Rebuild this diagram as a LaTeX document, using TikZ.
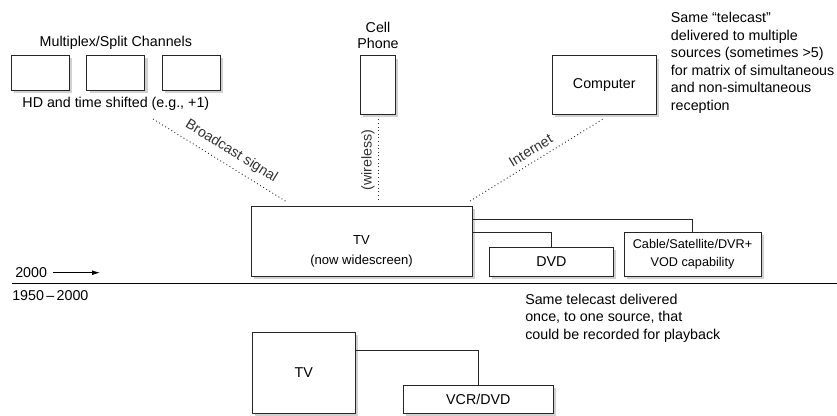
\documentclass[tikz,border=0pt]{standalone}
\usepackage{fontspec}
\setmainfont{Liberation Sans}
\usetikzlibrary{arrows.meta, positioning, shadows, calc}

\begin{document}
\begin{tikzpicture}[x=0.75pt, y=-0.75pt,
  font=\fontsize{10.7}{13.2}\selectfont,
  box/.style={draw=black!85, fill=white, inner sep=0pt, align=center, line width=0.6pt,
              drop shadow={shadow xshift=2pt, shadow yshift=-2pt, fill=black!18, opacity=1}},
  txt/.style={inner sep=0pt, align=left},
  lab/.style={sloped, inner sep=1pt},
  sig/.style={dotted, line width=0.7pt, black!80},
  wire/.style={draw=black!85, line width=0.6pt}]

  \useasboundingbox (0,0) rectangle (837,415);

  % multiplex / split channels
  \node[box, minimum width=43.5pt, minimum height=26pt] (ch1) at (40.5,73) {};
  \node[box, minimum width=43.5pt, minimum height=26pt, right=12.4pt of ch1] (ch2) {};
  \node[box, minimum width=43.5pt, minimum height=26pt, right=12.4pt of ch2] (ch3) {};
  \node[txt, above=4.5pt of ch2] (mux) {Multiplex/Split Channels};
  \node[txt, below=4.7pt of ch2] (hd) {HD and time shifted (e.g., +1)};

  % cell phone and computer
  \node[box, minimum width=26pt, minimum height=43.7pt] (phone) at (378,85) {};
  \node[txt, align=center, above=5pt of phone, font=\fontsize{10.7}{12}\selectfont] (phonelbl) {Cell\\Phone};
  \node[box, minimum width=78.5pt, minimum height=43.7pt] (pc) at (604.3,85) {Computer};
  \node[txt, anchor=west] (multi) at (670.7,62.8)
    {Same “telecast”\\delivered to multiple\\sources (sometimes >5)\\for matrix of simultaneous\\and non-simultaneous\\reception};

  % 2000 onwards
  \node[box, minimum width=165.75pt, minimum height=52.5pt] (tv) at (361.5,241) {};
  \node[txt, align=center, font=\fontsize{9.8}{13}\selectfont] (tvlbl) at ($(tv.center)+(0,10.7)$) {TV\\[2pt](now widescreen)};
  \node[box, minimum width=93pt, minimum height=21.5pt] (dvd) at (551.3,261.7) {DVD};
  \node[box, minimum width=102.75pt, minimum height=32.8pt, font=\fontsize{9.5}{12.8}\selectfont] (cable) at (692.5,254.2)
    {Cable/Satellite/DVR+\\VOD capability};

  \draw[wire] ($(tv.east)+(0,-22)$) -| (cable.north);
  \draw[wire] ($(tv.east)+(0,-8.7)$) -| (dvd.north);

  % signals
  \coordinate (bcstart) at (153,119);
  \coordinate (bcend) at (287,202);
  \coordinate (netstart) at (470,201);
  \coordinate (netend) at (603,119);
  \draw[sig] (bcstart) -- node[lab, pos=0.53, above=4pt] {Broadcast signal} (bcend);
  \draw[sig, shorten <=4.5pt, shorten >=3pt] (phone.south |- tv.north) -- node[lab, midway, above=1.3pt] {(wireless)} (phone.south);
  \draw[sig] (netstart) -- node[lab, pos=0.5, above=3.3pt] {Internet} (netend);

  % time line
  \node[txt, anchor=west] (now) at (15,272.7) {2000};
  \coordinate (nowarrow) at (100,272.7);
  \draw[-{Latex[length=6pt, width=3.6pt]}, line width=0.6pt, shorten <=4.5pt] (now.east) -- (nowarrow);
  \coordinate (divl) at (12,283.3);
  \coordinate (divr) at (837,283.3);
  \draw[line width=0.9pt] (divl) -- (divr);
  \node[txt, anchor=west] (past) at (12,295.5) {1950\,--\,2000};

  % 1950 - 2000
  \node[box, minimum width=77.25pt, minimum height=60.5pt] (oldtv) at (303.8,373) {TV};
  \node[box, minimum width=112.5pt, minimum height=21.2pt] (vcr) at (478.3,399.2) {VCR/DVD};
  \draw[wire] ($(oldtv.east)+(0,-22.3)$) -| (vcr.north);
  \node[txt, anchor=west] (once) at (525,318.3)
    {Same telecast delivered\\once, to one source, that\\could be recorded for playback};
\end{tikzpicture}
\end{document}
